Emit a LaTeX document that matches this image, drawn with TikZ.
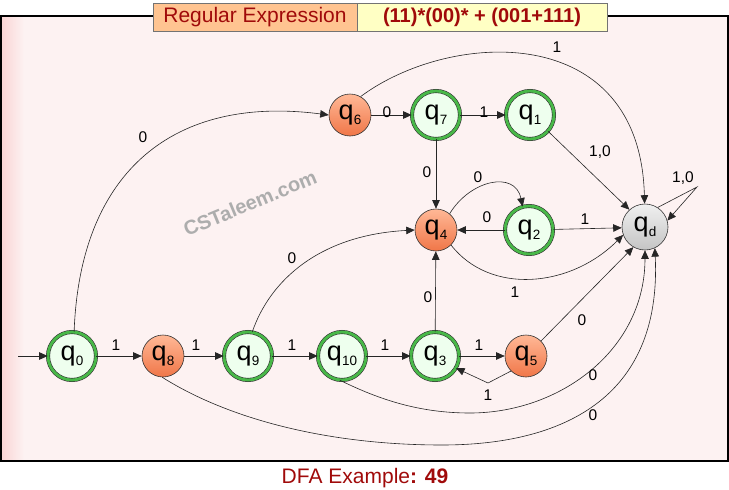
\documentclass[tikz,border=0pt]{standalone}
\usepackage{fontspec}
\setmainfont{Liberation Sans}
\usetikzlibrary{arrows.meta,shapes.geometric}
\definecolor{ringgreen}{RGB}{72,184,72}
\definecolor{accfill}{RGB}{238,255,238}
\definecolor{orA}{RGB}{255,184,150}
\definecolor{orB}{RGB}{240,118,72}
\definecolor{gyA}{RGB}{240,240,240}
\definecolor{gyB}{RGB}{196,196,196}
\definecolor{bgpink}{RGB}{253,242,242}
\definecolor{bgedge}{RGB}{250,212,212}
\definecolor{titlered}{RGB}{160,10,10}
\definecolor{peach}{RGB}{255,196,145}
\definecolor{paleyellow}{RGB}{255,255,196}
\newcommand{\qlab}[1]{\fontsize{27}{27}\selectfont q\raisebox{-5.5pt}{\fontsize{13.5}{13.5}\selectfont #1}}
\begin{document}
\begin{tikzpicture}[x=1pt,y=-1pt,
  acc/.style={circle, minimum size=48pt, inner sep=0pt, draw=black!80, line width=0.6pt, double=ringgreen, double distance=2.8pt, fill=accfill},
  rej/.style={circle, minimum size=42pt, inner sep=0pt, draw=black!80, line width=0.6pt, top color=orA, bottom color=orB},
  dead/.style={circle, minimum size=46pt, inner sep=0pt, draw=black!80, line width=0.6pt, top color=gyA, bottom color=gyB},
  tr/.style={draw=black!85, line width=0.6pt, -{Triangle[length=8.5pt,width=7.5pt]}},
  lab/.style={font=\fontsize{15.5}{15.5}\selectfont, inner sep=1pt},
  cell/.style={draw=black!55, line width=0.8pt, minimum height=28pt, inner sep=0pt, text=titlered, font=\fontsize{21}{21}\selectfont},
  framebox/.style={draw=black, line width=1.5pt}
]
\useasboundingbox (0,0) rectangle (729,490);
% background frame
\fill[bgpink] (1,16) rectangle (728,461);
\shade[left color=bgedge, right color=bgpink] (1,16) rectangle (24,461);
\draw[framebox] (1,16) rectangle (728,461);
% title
\node[cell, fill=peach, minimum width=204pt] (tl) at (255,17) {Regular Expression};
\node[cell, fill=paleyellow, minimum width=250pt, font=\fontsize{20}{20}\selectfont\bfseries] (tr) at (482,17) {(11)*(00)* + (001+111)};
% watermark
\node[rotate=22.5, text=black!32, font=\fontsize{20}{20}\selectfont\bfseries] (wm) at (250,203) {CSTaleem.com};
% caption
\node[text=titlered, font=\fontsize{21}{21}\selectfont] (cap) at (365,478) {DFA Example\textbf{: 49}};
% states
\node[acc]  (q0)  at (72,356)  {\qlab{0}};
\node[rej]  (q8)  at (163,356) {\qlab{8}};
\node[acc]  (q9)  at (248,356) {\qlab{9}};
\node[acc]  (q10) at (342,356) {\qlab{10}};
\node[acc]  (q3)  at (435,356) {\qlab{3}};
\node[rej]  (q5)  at (526,356) {\qlab{5}};
\node[rej]  (q6)  at (350,115) {\qlab{6}};
\node[acc]  (q7)  at (436,115) {\qlab{7}};
\node[acc]  (q1)  at (530,115) {\qlab{1}};
\node[rej]  (q4)  at (436,230) {\qlab{4}};
\node[acc]  (q2)  at (529,230) {\qlab{2}};
\node[dead] (qd)  at (645,227) {\qlab{d}};
\coordinate (start) at (18,356);
\coordinate (bend) at (488,383);
\coordinate (apex) at (697,187);
% transitions
\draw[tr] (start) -- (q0);
\draw[tr] (q0) -- (q8) node[lab] at (116,345) {1};
\draw[tr] (q8) -- (q9) node[lab] at (196,345) {1};
\draw[tr] (q9) -- (q10) node[lab] at (292,345) {1};
\draw[tr] (q10) -- (q3) node[lab] at (385,345) {1};
\draw[tr] (q3) -- (q5) node[lab] at (479,345) {1};
\draw[tr] (q5.-135) -- (bend) -- (q3.-30) node[lab] at (488,395) {1};
\draw[tr] (q5.45) -- (qd.-120) node[lab] at (582,320) {0};
\draw[tr] (q3) -- (q4) node[lab] at (428,297) {0};
\draw[tr] (q7) -- (q4) node[lab] at (427,172) {0};
\draw[tr] (q6) -- (q7) node[lab] at (387,112) {0};
\draw[tr] (q7) -- (q1) node[lab] at (484,112) {1};
\draw[tr] (q1.-42) -- (qd.132) node[lab] at (600,152) {1,0};
\draw[tr] (q2) -- (q4) node[lab] at (487,217) {0};
\draw[tr] (q2) -- (qd.182) node[lab] at (585,219) {1};
\draw[tr] (q4.50) .. controls (470,180) and (515,170) .. (q2.105) node[lab] at (478,177) {0};
\draw[tr] (q4.-45) .. controls (490,295) and (570,288) .. (qd.200) node[lab] at (515,292) {1};
\draw[tr] (q9.80) .. controls (270,280) and (320,235) .. (q4.180) node[lab] at (292,258) {0};
\draw[tr] (q0.85) .. controls (80,170) and (175,95) .. (q6.180) node[lab] at (143,137) {0};
\draw[tr] (q6.60) .. controls (450,30) and (640,20) .. (qd.91) node[lab] at (557,47) {1};
\draw[tr] (q10.-95) .. controls (380,400) and (420,413) .. (470,413) .. controls (560,413) and (645,350) .. (qd.-90) node[lab] at (593,375) {0};
\draw[tr] (q8.-92) .. controls (230,420) and (330,445) .. (442,445) .. controls (560,445) and (662,400) .. (qd.-65) node[lab] at (593,415) {0};
\draw[tr] (qd.57) -- (apex) -- (qd.16) node[lab] at (683,178) {1,0};
\end{tikzpicture}
\end{document}
